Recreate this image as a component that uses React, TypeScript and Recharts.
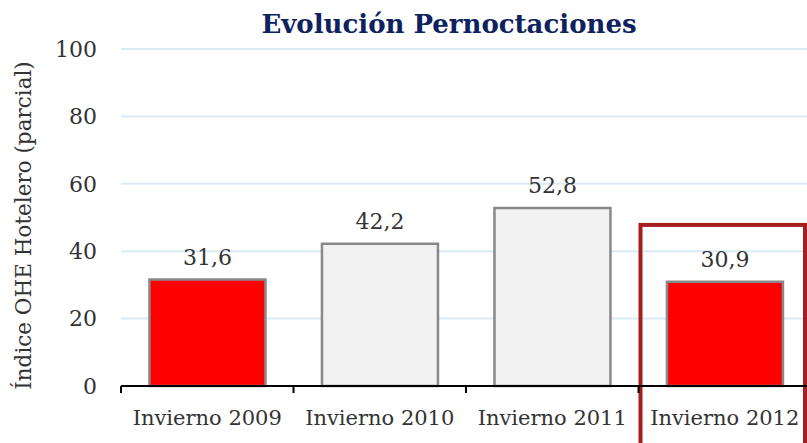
import React from 'react';
import { BarChart, Bar, XAxis, YAxis, CartesianGrid, LabelList, Cell, ReferenceArea } from 'recharts';

const categories = ['Invierno 2009', 'Invierno 2010', 'Invierno 2011', 'Invierno 2012'];
const values = [31.6, 42.2, 52.8, 30.9];
const barColors = ['#FF0000', '#F2F2F2', '#F2F2F2', '#FF0000'];
const yTicks = [0, 20, 40, 60, 80, 100];

const data = categories.map((name, i) => ({ name, value: values[i] }));

const FONT = "'DejaVu Serif', Georgia, serif";

const XTick = (props: any) => {
  const { x, y, payload } = props;
  const half = payload.offset || 86;
  return (
    <g>
      <line x1={x - half} y1={y - 8} x2={x - half} y2={y - 1} stroke="#000" strokeWidth={2} />
      <text x={x} y={y + 31} textAnchor="middle" fontFamily={FONT} fontSize={21} fill="#333">
        {payload.value}
      </text>
    </g>
  );
};

const HighlightBox = (props: any) => {
  const { x, y, width } = props;
  return (
    <rect x={x + 2} y={y} width={width - 8} height={260} fill="none" stroke="#A61F1F" strokeWidth={4} />
  );
};

const App: React.FC = () => {
  return (
    <div style={{ position: 'absolute', left: 0, top: 0, width: 807, height: 443, overflow: 'hidden', background: '#fff' }}>
      <BarChart
        width={811}
        height={443}
        data={data}
        margin={{ top: 49, right: 0, bottom: 0, left: 0 }}
        barCategoryGap="16.5%"
        style={{ position: 'absolute', left: 0, top: 0 }}
      >
        <text x={449} y={33} textAnchor="middle" fontFamily={FONT} fontWeight="bold" fontSize={26} fill="#0E2260">
          Evolución Pernoctaciones
        </text>
        <CartesianGrid vertical={false} stroke="#DAEBF3" strokeWidth={2} />
        <XAxis
          dataKey="name"
          height={57}
          tick={<XTick />}
          tickLine={false}
          axisLine={{ stroke: '#000', strokeWidth: 2 }}
          interval={0}
        />
        <YAxis
          width={121}
          domain={[0, 100]}
          ticks={yTicks}
          axisLine={false}
          tickLine={false}
          tick={{ fontFamily: FONT, fontSize: 22, fill: '#333' }}
          tickMargin={18}
          label={{
            value: 'Índice OHE Hotelero (parcial)',
            angle: -90,
            position: 'center',
            dx: -37,
            dy: 8,
            style: { fontFamily: FONT, fontSize: 21.5, fill: '#333' },
          }}
        />
        <ReferenceArea
          x1="Invierno 2012"
          x2="Invierno 2012"
          y1={0}
          y2={47.8}
          ifOverflow="visible"
          shape={<HighlightBox />}
        />
        <Bar dataKey="value" stroke="#898989" strokeWidth={2.5} isAnimationActive={false}>
          {data.map((d, i) => (
            <Cell key={d.name} fill={barColors[i]} />
          ))}
          <LabelList
            dataKey="value"
            position="top"
            offset={15}
            formatter={(v: any) => String(v).replace('.', ',')}
            style={{ fontFamily: FONT, fontSize: 22, fill: '#333' }}
          />
        </Bar>
      </BarChart>
    </div>
  );
};

export default App;
